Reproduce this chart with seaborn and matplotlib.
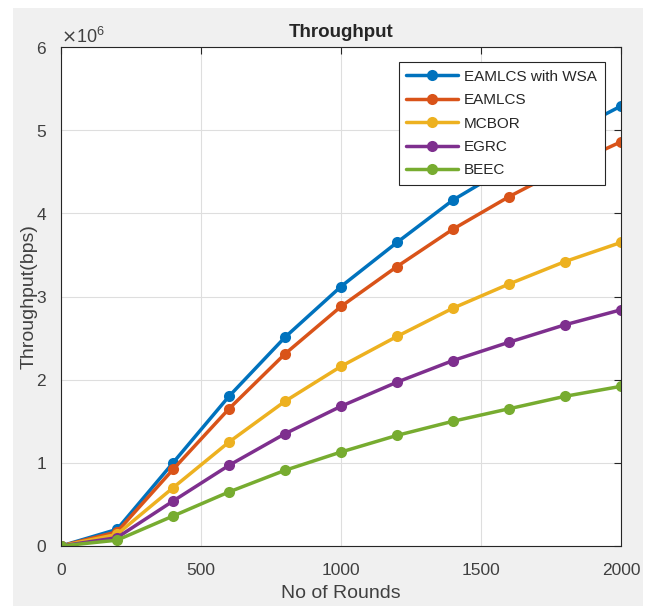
import pandas as pd
import matplotlib.pyplot as plt
import matplotlib.ticker as mticker
from matplotlib.patches import Rectangle
import seaborn as sns

# data
rounds = [0, 200, 400, 600, 800, 1000, 1200, 1400, 1600, 1800, 2000]
eamlcs_wsa = [0, 0.20e6, 1.00e6, 1.80e6, 2.51e6, 3.12e6, 3.65e6, 4.16e6, 4.56e6, 4.94e6, 5.29e6]
eamlcs = [0, 0.17e6, 0.92e6, 1.65e6, 2.31e6, 2.88e6, 3.36e6, 3.81e6, 4.20e6, 4.55e6, 4.86e6]
mcbor = [0, 0.14e6, 0.70e6, 1.25e6, 1.74e6, 2.16e6, 2.52e6, 2.86e6, 3.15e6, 3.42e6, 3.65e6]
egrc = [0, 0.10e6, 0.54e6, 0.97e6, 1.35e6, 1.68e6, 1.97e6, 2.23e6, 2.45e6, 2.66e6, 2.84e6]
beec = [0, 0.07e6, 0.36e6, 0.65e6, 0.91e6, 1.13e6, 1.33e6, 1.50e6, 1.65e6, 1.80e6, 1.92e6]

names = ['EAMLCS with WSA', 'EAMLCS', 'MCBOR', 'EGRC', 'BEEC']
colors = ['#0072BD', '#D95319', '#EDB120', '#7E2F8E', '#77AC30']

df = pd.concat([
    pd.DataFrame({'rounds': rounds, 'throughput': vals, 'method': n})
    for n, vals in zip(names, [eamlcs_wsa, eamlcs, mcbor, egrc, beec])
])

sns.set_style("whitegrid")
plt.rcParams['font.family'] = ['Liberation Sans', 'DejaVu Sans']

fig = plt.figure(figsize=(6.48, 6.06), dpi=100)
fig.patch.set_facecolor('white')
# matlab style gray figure area
fig.patches.append(Rectangle((13 / 648, 0), 630 / 648, 598 / 606,
                             transform=fig.transFigure, facecolor='#f0f0f0',
                             edgecolor='none', zorder=-10))

ax = fig.add_axes([61 / 648, 60 / 606, 560 / 648, 499 / 606])
ax.set_facecolor('white')

sns.lineplot(data=df, x='rounds', y='throughput', hue='method', palette=colors,
             hue_order=names, marker='o', markersize=8, markeredgewidth=0,
             linewidth=2.5, ax=ax, legend=False)

ax.set_xlim(0, 2000)
ax.set_ylim(0, 6e6)
ax.set_xticks([0, 500, 1000, 1500, 2000])
ax.set_yticks([0, 1e6, 2e6, 3e6, 4e6, 5e6, 6e6])
fmt = mticker.ScalarFormatter(useMathText=True)
fmt.set_powerlimits((0, 0))
ax.yaxis.set_major_formatter(fmt)
ax.yaxis.get_offset_text().set_fontsize(13)
ax.yaxis.get_offset_text().set_color('#404040')

ax.grid(True, color='#dedede', linewidth=0.8)
for s in ax.spines.values():
    s.set_color('#262626')
    s.set_linewidth(0.8)
ax.tick_params(direction='in', length=5, width=0.8, color='#262626',
               labelcolor='#404040', labelsize=12.5, top=True, right=True)
ax.tick_params(axis='x', pad=12)
ax.tick_params(axis='y', pad=10)

ax.set_xlabel('No of Rounds', fontsize=14, color='#404040', labelpad=5)
ax.set_ylabel('Throughput(bps)', fontsize=14, color='#404040', labelpad=-1)
ax.set_title('Throughput', fontsize=13.5, fontweight='bold', pad=7)

handles = [plt.Line2D([], [], color=c, linewidth=2.5, marker='o', markersize=8,
                      markeredgewidth=0) for c in colors]
leg = ax.legend(handles, names, loc='upper right', bbox_to_anchor=(0.971, 0.97),
                fontsize=11, handlelength=3.4, numpoints=1, fancybox=False,
                framealpha=1, edgecolor='#262626', borderpad=0.5,
                labelspacing=0.62, handletextpad=0.4, borderaxespad=0)
leg.get_frame().set_linewidth(0.8)

plt.savefig('out.png', dpi=100)
